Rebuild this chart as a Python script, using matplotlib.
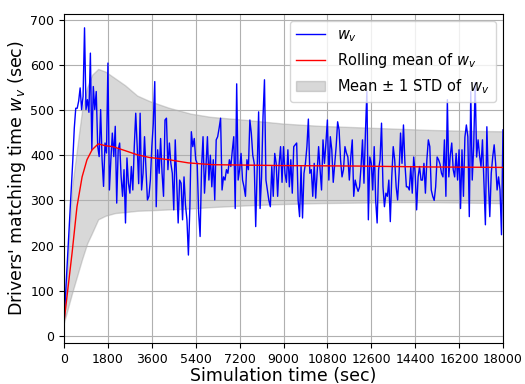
import numpy as np
import matplotlib.pyplot as plt

# w_v, one sample every 60 s from 0 to 18000 s
step = 60
w_v = [30, 90, 150, 210, 270, 330, 390, 460, 504, 504,
       520, 549, 501, 530, 682, 501, 523, 495, 626, 412,
       552, 501, 541, 420, 397, 501, 390, 331, 427, 405,
       604, 323, 390, 449, 397, 464, 294, 412, 427, 353,
       309, 368, 250, 394, 338, 316, 375, 323, 419, 493,
       419, 337, 493, 323, 360, 441, 368, 301, 309, 345,
       419, 470, 563, 286, 412, 360, 437, 360, 309, 478,
       482, 368, 427, 382, 360, 279, 434, 345, 250, 345,
       338, 257, 352, 290, 257, 179, 286, 452, 419, 437,
       390, 382, 272, 220, 374, 441, 316, 374, 441, 345,
       400, 330,
       390, 301, 434, 441, 460, 482, 323, 352, 345, 368,
       360, 390, 375, 410, 441, 282, 558, 345, 368, 404,
       345, 330, 309, 390, 368, 478, 449, 400, 382, 242,
       368, 496, 282, 352, 486, 567, 345, 323, 300, 286,
       375, 309, 404, 382, 309, 380, 419, 340, 419, 360,
       340, 412, 330, 390, 316, 419, 423, 427, 300, 264,
       375, 261, 360, 382, 419, 480, 360, 368, 309, 382,
       305, 360, 419, 368, 323, 434, 382, 427, 478, 345,
       441, 412, 340, 380, 420, 474, 456, 390, 352, 368,
       419, 405, 396, 345, 396, 434, 309, 345, 330, 320,
       330, 375, 434, 338, 450, 541, 257, 396, 382, 323,
       419, 300, 250, 368, 390, 471, 330, 286, 316, 309,
       345, 253, 352, 419, 390, 330, 301, 360, 449, 382,
       467, 382, 330, 330, 323, 375, 316, 396, 360, 279,
       352, 375, 345, 345, 382, 316, 390, 434, 419, 323,
       309,
       300, 330, 396, 390, 380, 360, 352, 434, 309, 523,
       352, 400, 427, 368, 352, 404, 345, 412, 282, 412,
       309, 440, 467, 441, 264, 541, 345, 420, 560, 396,
       434, 400, 375, 434, 338, 246, 463, 345, 264, 360,
       396, 423, 382, 323, 352, 323, 224, 456]
t = np.arange(len(w_v)) * step

# rolling mean (red line)
mean_t = [0, 40, 330, 530, 740, 940, 1150, 1400, 1700, 2000, 2400, 3000,
          3500, 4300, 5100, 6100, 9100, 12000, 15000, 18000]
mean_v = [30, 50, 184, 286, 352, 390, 412, 425, 421, 419, 412, 401,
          395, 390, 383, 379, 377, 376, 374, 373]

# mean +/- 1 std band
band_t = [0, 330, 740, 950, 1150, 1400, 1700, 2100, 2500, 3000, 3500, 4300,
          5200, 6000, 7500, 9000, 10500, 12000, 13500, 15000, 16500, 18000]
band_hi = [30, 330, 500, 550, 578, 591, 585, 570, 555, 532, 520, 505,
           492, 485, 478, 470, 465, 462, 459, 456, 454, 453]
band_lo = [30, 95, 170, 205, 228, 258, 266, 272, 274, 277, 278, 280,
           282, 285, 289, 292, 294, 295, 296, 296, 295, 294]

fig = plt.figure(figsize=(5.25, 3.84), dpi=100)
ax = fig.add_axes([0.122, 0.107, 0.836, 0.857])

ax.plot(t, w_v, color='b', linewidth=1, label='$w_v$')
ax.plot(mean_t, mean_v, color='r', linewidth=1, label='Rolling mean of $w_v$')
ax.fill_between(band_t, band_lo, band_hi, color='gray', alpha=0.3,
                label='Mean $\\pm$ 1 STD of  $w_v$')

ax.set_xlim(0, 18000)
ax.set_ylim(-15.5, 713)
ax.set_xticks(np.arange(0, 18001, 1800))
ax.set_yticks(np.arange(0, 701, 100))
ax.tick_params(labelsize=9)
ax.grid(color='#b0b0b0', linewidth=0.8)
ax.set_xlabel('Simulation time (sec)', fontsize=12.5, labelpad=1)
ax.set_ylabel("Drivers' matching time $w_v$ (sec)", fontsize=12.5, labelpad=2)
ax.legend(loc='upper right', fontsize=10.5)

fig.savefig('out.png', dpi=100)
